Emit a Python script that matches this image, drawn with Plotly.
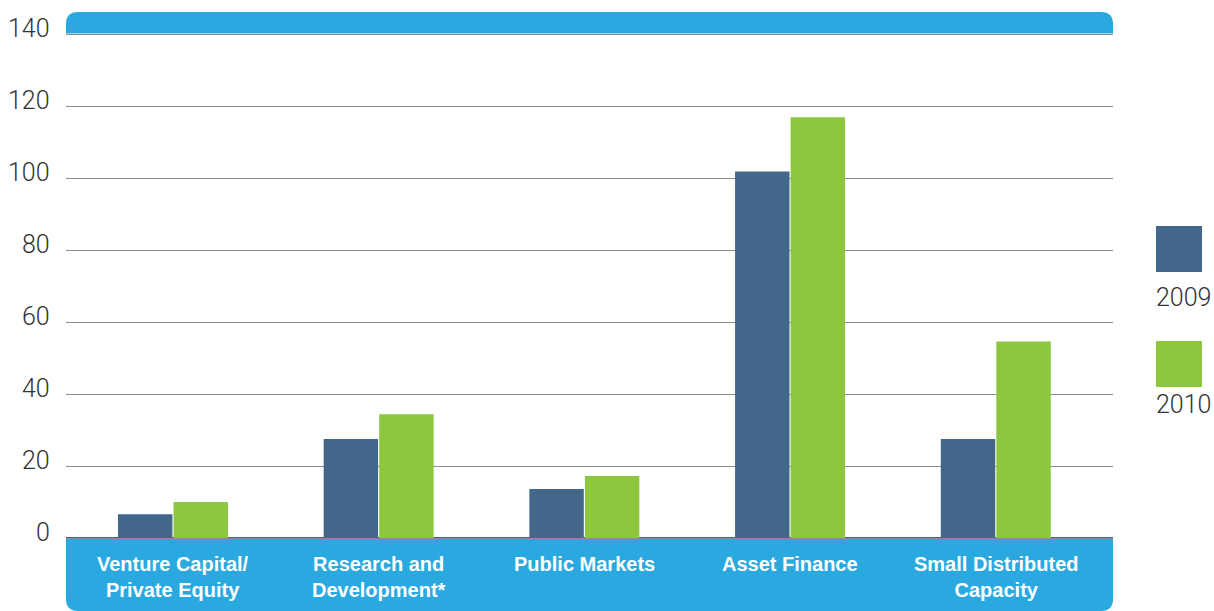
import plotly.graph_objects as go

categories = ["Venture Capital/<br>Private Equity", "Research and<br>Development*",
              "Public Markets", "Asset Finance", "Small Distributed<br>Capacity"]
series_names = ["2009", "2010"]
values_2009 = [6.6, 27.5, 13.6, 101.8, 27.5]
values_2010 = [10.0, 34.4, 17.2, 116.9, 54.6]
y_ticks = [0, 20, 40, 60, 80, 100, 120, 140]

C2009 = "#43678A"
C2010 = "#8DC63F"
BAND = "#29A9E0"
TICK_FONT = dict(family="Roboto", size=25, color="#333333", weight=300)

W, H = 1214, 611
L, R, T, B = 66, 1113, 12, 611
px_per_unit = (538 - 34) / 140.0
ymax = 140 + (34 - T) / px_per_unit
ymin = -(B - 538) / px_per_unit
plot_w = R - L
plot_h = B - T

fig = go.Figure()
fig.add_trace(go.Bar(x=categories, y=values_2009, name=series_names[0],
                     marker=dict(color=C2009, line=dict(width=0))))
fig.add_trace(go.Bar(x=categories, y=values_2010, name=series_names[1],
                     marker=dict(color=C2010, line=dict(width=0))))

# rounded bands (x in paper, y in data)
rx = 12 / plot_w
ry = 12 / px_per_unit
y_top0 = 140 + 0.5 / px_per_unit
top_path = (f"M 0,{y_top0} L 0,{ymax-ry} Q 0,{ymax} {rx},{ymax} L {1-rx},{ymax} "
            f"Q 1,{ymax} 1,{ymax-ry} L 1,{y_top0} Z")
bot_path = (f"M 0,0 L 0,{ymin+ry} Q 0,{ymin} {rx},{ymin} L {1-rx},{ymin} "
            f"Q 1,{ymin} 1,{ymin+ry} L 1,0 Z")
shapes = [
    dict(type="path", xref="paper", yref="y", path=top_path, fillcolor=BAND,
         line=dict(width=0), layer="between"),
    dict(type="path", xref="paper", yref="y", path=bot_path, fillcolor=BAND,
         line=dict(width=0), layer="between"),
    dict(type="line", xref="paper", yref="y", x0=0, x1=1, y0=0, y1=0,
         line=dict(color="#56616b", width=2), layer="between"),
]

annotations = []
# y tick labels (sit slightly above their gridlines)
for v in y_ticks:
    annotations.append(dict(xref="paper", yref="y", x=0, xanchor="right", xshift=-14,
                            y=v, yanchor="middle", yshift=6, text=str(v),
                            showarrow=False, font=TICK_FONT))

# legend squares with labels underneath
sq_x0 = (1156 - L) / plot_w
sq_x1 = (1202 - L) / plot_w
leg_tops = [226, 341]
leg_text_mid = [297, 404]
for i, (name, col) in enumerate(zip(series_names, [C2009, C2010])):
    t = leg_tops[i]
    shapes.append(dict(type="rect", xref="paper", yref="paper",
                       x0=sq_x0, x1=sq_x1, y0=(B - t - 46) / plot_h, y1=(B - t) / plot_h,
                       fillcolor=col, line=dict(width=0)))
    annotations.append(dict(xref="paper", yref="paper", x=sq_x0, xanchor="left",
                            xshift=-2, y=(B - leg_text_mid[i]) / plot_h, yanchor="middle",
                            text=name, showarrow=False, font=TICK_FONT))

for cat in categories:
    annotations.append(dict(xref="x", yref="y", x=cat, y=0, yanchor="top", yshift=-13,
                            text=cat, showarrow=False, align="center",
                            font=dict(family="Liberation Sans", size=20, color="white",
                                      weight="bold")))

fig.update_layout(
    width=W, height=H,
    margin=dict(l=L, r=W - R, t=T, b=H - B, pad=0),
    paper_bgcolor="white", plot_bgcolor="white",
    barmode="group", bargap=0.46, bargroupgap=0.02,
    showlegend=False,
    shapes=shapes, annotations=annotations,
    xaxis=dict(range=[-0.52, 4.57], showticklabels=False, showgrid=False,
               zeroline=False, showline=False, fixedrange=True),
    yaxis=dict(range=[ymin, ymax], tickvals=y_ticks, showgrid=True,
               gridcolor="#8c8c8c", gridwidth=1, zeroline=False, showline=False,
               showticklabels=False, fixedrange=True),
)

fig.write_html("out.html", config={"displayModeBar": False},
               post_script="document.body.style.margin='0';")
